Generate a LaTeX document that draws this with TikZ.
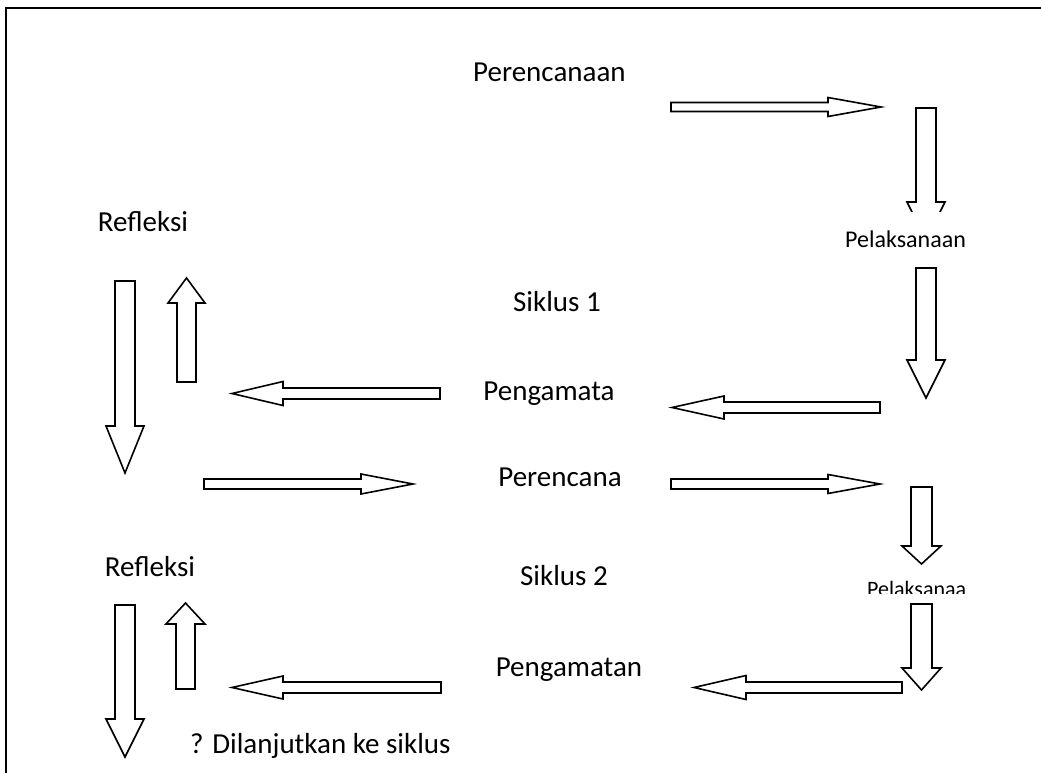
\documentclass[tikz,border=0pt]{standalone}
\usepackage{fontspec}
\setmainfont{Carlito}
\tikzset{
  blk/.style={draw=black,line width=1.6pt,fill=white,line join=miter},
  frameline/.style={draw=black,line width=2pt},
  big/.style={inner sep=0pt,font=\fontsize{29}{31}\selectfont,anchor=base},
  small/.style={inner sep=0pt,font=\fontsize{22}{24}\selectfont,anchor=base west},
}
% #1,#2 tail; #3 angle; #4 length; #5 shaft half width; #6 head half width; #7 head length
\newcommand{\blockarr}[7]{%
  \draw[blk,shift={(#1,#2)},rotate=#3] (0,-#5) -- ({#4-#7},-#5) -- ({#4-#7},-#6) -- (#4,0) -- ({#4-#7},#6) -- ({#4-#7},#5) -- (0,#5) -- cycle;}
\begin{document}
\begin{tikzpicture}[x=1pt,y=-1pt]
\useasboundingbox (0,0) rectangle (1041,773);
\fill[white] (0,0) rectangle (1041,773);
\coordinate (fb) at (6,773);
\coordinate (fc) at (6,8);
\coordinate (fr) at (1041,8);
\draw[frameline] (fb) -- (fc) -- (fr);

% texts
\node[big,anchor=base west] (per1) at (473,82) {Perencanaan};
\node[big] (ref1) at (143,231) {Refleksi};
\node[big] (sik1) at (557,311) {Siklus 1};
\node[big] (pen1) at (549,400) {Pengamata};
\node[big] (per2) at (560,486) {Perencana};
\node[big] (ref2) at (150,576) {Refleksi};
\node[big] (sik2) at (564,585) {Siklus 2};
\node[big] (pen2) at (569,676) {Pengamatan};
\node[big,anchor=base west] (lanj) at (190,753) {? Dilanjutkan ke siklus};

% arrows
\blockarr{671}{107}{0}{210}{4.5}{9.5}{53}
\blockarr{926}{108}{-90}{132}{10}{19}{38}
\fill[white] (830,212) rectangle (1000,258);
\node[small,font=\fontsize{24}{26}\selectfont] (pel1) at (845,247) {Pelaksanaan};
\blockarr{926}{268}{-90}{130}{10}{19}{38}
\blockarr{125}{281}{-90}{192}{10}{19}{47}
\blockarr{186.5}{382}{90}{104}{9.5}{18.5}{25}
\blockarr{440}{393.5}{180}{208}{5.5}{12}{51}
\blockarr{880}{407.5}{180}{208}{5.5}{11.5}{52}
\blockarr{671}{484}{0}{209}{5}{9.5}{52}
\blockarr{204}{484}{0}{209}{5}{10}{52}
\blockarr{921.5}{487}{-90}{77}{10.5}{19.5}{18}
\begin{scope}
\clip (840,560) rectangle (1000,593);
\node[small] (pel2) at (867,596) {Pelaksanaa};
\end{scope}
\blockarr{921.5}{604}{-90}{86}{10.5}{19.5}{22}
\blockarr{902}{687.5}{180}{208}{5.5}{12}{52}
\blockarr{125}{605}{-90}{152}{10}{19}{38}
\blockarr{185.5}{689}{90}{86}{9.5}{19.5}{21}
\blockarr{441}{687.5}{180}{209}{5.5}{11.5}{51}
\end{tikzpicture}
\end{document}
